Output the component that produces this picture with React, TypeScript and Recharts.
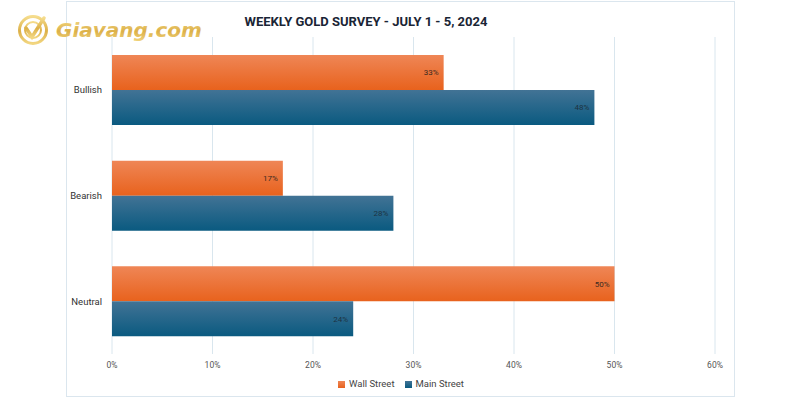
import React from "react";
import { BarChart, Bar, XAxis, YAxis, CartesianGrid, Legend, LabelList } from "recharts";

const categories = ["Bullish", "Bearish", "Neutral"];
const wallStreet = [33, 17, 50];
const mainStreet = [48, 28, 24];
const xTicks = [0, 10, 20, 30, 40, 50, 60];
const seriesOrder = ["Wall Street", "Main Street"];

const data = categories.map((c, i) => ({ name: c, wall: wallStreet[i], main: mainStreet[i] }));

const FONT = "'Liberation Sans Narrow', 'Roboto', sans-serif";

export default function App() {
  return (
    <div style={{ position: "absolute", left: 0, top: 0, width: 800, height: 400, background: "#fff", overflow: "hidden" }}>
      <div style={{ position: "absolute", left: 66, top: 1, width: 669, height: 396, border: "1px solid #dbe6ee", boxSizing: "border-box" }} />
      <div style={{ position: "absolute", left: 66, top: 1 }}>
        <BarChart
          width={670}
          height={397}
          data={data}
          layout="vertical"
          barCategoryGap="17%"
          barGap={0}
          margin={{ top: 36, right: 21, left: 0, bottom: 0 }}
        >
          <defs>
            <linearGradient id="gOrange" x1="0" y1="0" x2="0" y2="1">
              <stop offset="0%" stopColor="#ef8656" />
              <stop offset="100%" stopColor="#e8621d" />
            </linearGradient>
            <linearGradient id="gBlue" x1="0" y1="0" x2="0" y2="1">
              <stop offset="0%" stopColor="#427395" />
              <stop offset="100%" stopColor="#0a5a80" />
            </linearGradient>
          </defs>
          <CartesianGrid horizontal={false} stroke="#d9e6ee" />
          <XAxis
            type="number"
            domain={[0, 60]}
            ticks={xTicks}
            tickFormatter={(v) => `${v}%`}
            axisLine={false}
            tickLine={false}
            tickMargin={2}
            height={24}
            tick={{ fontSize: 8.5, fill: "#555", fontFamily: FONT }}
          />
          <YAxis
            type="category"
            dataKey="name"
            width={46}
            axisLine={false}
            tickLine={false}
            tickMargin={4}
            tick={{ fontSize: 9.5, fill: "#333", fontFamily: FONT }}
          />
          <Legend
            verticalAlign="bottom"
            height={20}
            iconType="square"
            iconSize={7}
            itemSorter={(item: any) => seriesOrder.indexOf(item.value)}
            wrapperStyle={{ fontSize: 9.5, fontFamily: FONT, color: "#444", left: 0, width: 670, paddingLeft: 10, boxSizing: "border-box" }}
            formatter={(v) => <span style={{ color: "#444" }}>{v}</span>}
          />
          <Bar dataKey="wall" name="Wall Street" fill="url(#gOrange)" isAnimationActive={false}>
            <LabelList dataKey="wall" position="insideRight" formatter={(v: number) => `${v}%`} style={{ fontSize: 8, fill: "#3a2a20", fontFamily: FONT }} />
          </Bar>
          <Bar dataKey="main" name="Main Street" fill="url(#gBlue)" isAnimationActive={false}>
            <LabelList dataKey="main" position="insideRight" formatter={(v: number) => `${v}%`} style={{ fontSize: 8, fill: "#1d3342", fontFamily: FONT }} />
          </Bar>
        </BarChart>
      </div>
      <div style={{ position: "absolute", left: 166, top: 14, width: 400, textAlign: "center", fontFamily: FONT, fontWeight: 700, fontSize: 13, color: "#1a2535" }}>
        WEEKLY GOLD SURVEY - JULY 1 - 5, 2024
      </div>
      <svg style={{ position: "absolute", left: 0, top: 0 }} width={220} height={60}>
        <defs>
          <linearGradient id="gold" x1="0" y1="0" x2="0" y2="1">
            <stop offset="0%" stopColor="#f5dc8c" />
            <stop offset="55%" stopColor="#dcb048" />
            <stop offset="100%" stopColor="#f2d680" />
          </linearGradient>
        </defs>
        <circle cx={33} cy={30} r={13.5} fill="none" stroke="url(#gold)" strokeWidth={3} />
        <circle cx={33} cy={30} r={8} fill="none" stroke="url(#gold)" strokeWidth={2} />
        <path d="M26 28 L32 37 L44 18" fill="none" stroke="url(#gold)" strokeWidth={3.5} strokeLinecap="round" />
        <text x={56} y={37} fontFamily="'DejaVu Sans', sans-serif" fontStyle="italic" fontWeight={700} fontSize={20} fill="url(#gold)">
          Giavang.com
        </text>
      </svg>
    </div>
  );
}
